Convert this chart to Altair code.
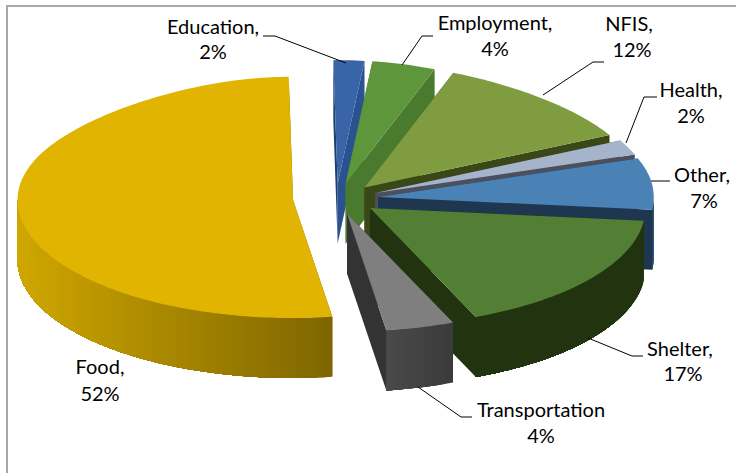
import math
import altair as alt

# Household expenditure shares, clockwise from the top of the pie
categories = ["Education", "Employment", "NFIS", "Health", "Other", "Shelter", "Transportation", "Food"]
shares = [2, 4, 12, 2, 7, 17, 4, 52]
first_lines = ["Education,", "Employment,", "NFIS,", "Health,", "Other,", "Shelter,", "Transportation", "Food,"]
second_lines = ["2%", "4%", "12%", "2%", "7%", "17%", "4%", "52%"]

# Colours per slice: top face, clockwise-side cut, counter-clockwise cut, wall ramp
top_colors = ["#3a64a8", "#5e963c", "#7f9d40", "#a6b4cb", "#4a82b6", "#527f33", "#7f7f7f", "#e0b400"]
end_colors = ["#2a5290", "#4a7a2e", "#3a4818", "#4c505e", "#1f3650", "#21330f", "#333333", "#7e6500"]
start_colors = ["#1c3f70", "#4a7a2e", "#3a4818", "#4c505e", "#1f3650", "#21330f", "#333333", "#7e6500"]
wall_near = ["#244668", "#4a7a2e", "#3a4818", "#4c505e", "#244668", "#22340f", "#3a3a3a", "#7e6500"]
wall_far = ["#244668", "#4a7a2e", "#3a4818", "#4c505e", "#244668", "#22340f", "#4a4a4a", "#cfa700"]

# Projected pie geometry, in pixels
CX, CY = 335.7, 198.8
RX, RY = 275.5, 118.0
EXPLODE_X, EXPLODE_Y = 42.8, 15.4
DEPTH = 60.0
START_ANGLE = -1.0
# Perspective on the far half: narrower and slightly taller towards the back
NARROW, STRETCH = 0.10, 0.045


def rim(apex, deg, drop=0.0):
    t = math.radians(deg)
    far = max(math.cos(t), 0.0) ** 3
    return [
        apex[0] + RX * math.sin(t) * (1 - NARROW * far),
        apex[1] - RY * math.cos(t) * (1 + STRETCH * far) + drop,
    ]


def mix(c1, c2, t):
    a = [int(c1[i:i + 2], 16) for i in (1, 3, 5)]
    b = [int(c2[i:i + 2], 16) for i in (1, 3, 5)]
    return "#" + "".join(f"{round(p + (q - p) * t):02x}" for p, q in zip(a, b))


def polygon(points, color):
    return {
        "type": "Feature",
        "geometry": {"type": "Polygon", "coordinates": [points + [points[0]]]},
        "properties": {"color": color},
    }


def line(points):
    return {"type": "Feature", "geometry": {"type": "LineString", "coordinates": points}, "properties": {}}


slices = []
angle = START_ANGLE
for i, share in enumerate(shares):
    span = share * 3.6
    slices.append((i, angle, angle + span))
    angle += span

features = []
# Painted back to front; the large Food slice does not overlap the others
for i, a0, a1 in slices:
    mid = math.radians((a0 + a1) / 2)
    apex = [CX + EXPLODE_X * math.sin(mid), CY - EXPLODE_Y * math.cos(mid)]
    low = [apex[0], apex[1] + DEPTH]

    # Cut faces running from the centre to the rim
    features.append(polygon([apex, rim(apex, a0), rim(apex, a0, DEPTH), low], start_colors[i]))
    features.append(polygon([apex, rim(apex, a1), rim(apex, a1, DEPTH), low], end_colors[i]))

    # Outer wall on the viewer's side; each band reaches to the wall's end and the
    # next band paints over it, so the shading steps leave no seams
    w0, w1 = max(a0, 90.0), min(a1, 270.0)
    if w1 > w0:
        steps = max(1, int((w1 - w0) / 1.5))
        angles = [w0 + (w1 - w0) * k / steps for k in range(steps + 1)]
        xs = [rim(apex, d)[0] for d in angles]
        lo, hi = min(xs), max(xs)
        for k in range(steps):
            t = ((xs[k] + xs[k + 1]) / 2 - lo) / (hi - lo) if hi > lo else 0
            band = angles[k:]
            outline = [rim(apex, d) for d in band] + [rim(apex, d, DEPTH) for d in reversed(band)]
            features.append(polygon(outline, mix(wall_far[i], wall_near[i], t)))

    # Top face
    n = max(2, int(a1 - a0))
    arc = [rim(apex, a0 + (a1 - a0) * k / n) for k in range(n + 1)]
    features.append(polygon([apex] + arc, top_colors[i]))

faces = (
    alt.Chart(alt.Data(values=features))
    .mark_geoshape(strokeWidth=0)
    .encode(fill=alt.Color("properties.color:N", scale=None))
)

# Leader lines between labels and slices
leader_paths = [
    [[263, 36], [275, 36], [346, 63]],
    [[433, 36], [422, 36], [402, 65]],
    [[604, 62], [593, 62], [543, 95]],
    [[657, 97], [644, 97], [626, 143]],
    [[670, 181], [651, 181]],
    [[643, 356], [632, 356], [588, 338]],
    [[472, 417], [461, 417], [418, 387]],
]
leaders = (
    alt.Chart(alt.Data(values=[line(p) for p in leader_paths]))
    .mark_geoshape(filled=False, stroke="#000000", strokeWidth=1)
)

# Outer frame of the chart area
frame_paths = [[[7, 473], [7, 6], [736, 6]]]
frame = (
    alt.Chart(alt.Data(values=[line(p) for p in frame_paths]))
    .mark_geoshape(filled=False, stroke="#a8a8a8", strokeWidth=2)
)

label_x1 = [213, 495, 629, 691, 702, 680, 541, 100]
label_x2 = [213, 495, 632, 691, 704, 683, 541, 100]
label_y1 = [28, 24, 25, 91, 176, 350, 411, 368]
label_y2 = [53, 50, 51, 117, 202, 375, 437, 395]
label_rows = []
for i in range(len(categories)):
    label_rows.append({"lon": label_x1[i], "lat": label_y1[i], "text": first_lines[i]})
    label_rows.append({"lon": label_x2[i], "lat": label_y2[i], "text": second_lines[i]})

labels = (
    alt.Chart(alt.Data(values=label_rows))
    .mark_text(font="Lato", fontSize=20, color="#000000", align="center", baseline="middle")
    .encode(longitude="lon:Q", latitude="lat:Q", text="text:N")
)

chart = (
    alt.layer(frame, faces, leaders, labels)
    .project(type="identity", scale=1, translate=[0, 0])
    .properties(width=736, height=473, padding=0, autosize="none", background="#ffffff")
    .configure_view(stroke=None)
)

chart.save("out.html", embed_options={"renderer": "svg", "actions": False})
